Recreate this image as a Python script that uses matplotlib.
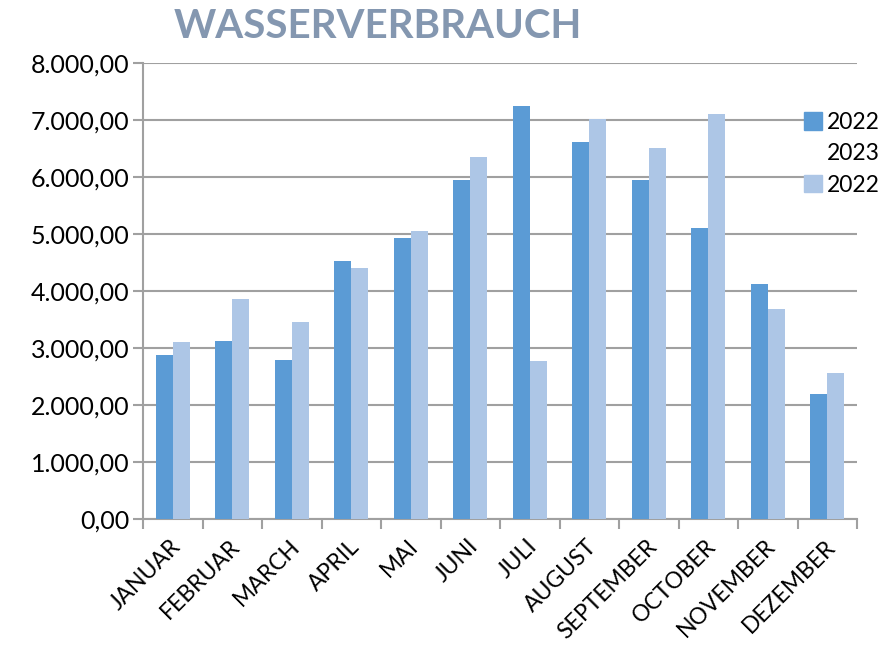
import matplotlib.pyplot as plt
import matplotlib.patches as mpatches
import numpy as np

monate = ['JANUAR', 'FEBRUAR', 'MARCH', 'APRIL', 'MAI', 'JUNI', 'JULI',
          'AUGUST', 'SEPTEMBER', 'OCTOBER', 'NOVEMBER', 'DEZEMBER']
werte_a = [2880, 3115, 2790, 4530, 4930, 5950, 7250, 6620, 5950, 5100, 4120, 2200]
werte_b = [3105, 3855, 3460, 4405, 5055, 6350, 2780, 7010, 6510, 7100, 3685, 2560]
legende = ['2022', '2023', '2022']

dunkel = '#5B9BD5'
hell = '#ADC6E6'
grau = '#A0A0A0'

plt.rcParams['font.family'] = ['Lato', 'DejaVu Sans']

fig = plt.figure(figsize=(8.82, 6.45), dpi=100)
ax = fig.add_axes([143/882, 1-519/645, 714/882, 456/645])

x = np.arange(len(monate))
b = 0.285
ax.bar(x - b/2, werte_a, width=b, color=dunkel, zorder=3)
ax.bar(x + b/2, werte_b, width=b, color=hell, zorder=3)

ax.set_xlim(-0.5, len(monate) - 0.5)
ax.set_ylim(0, 8000)
ax.set_yticks(np.arange(0, 8001, 1000))
ax.set_yticklabels([f'{v:,.2f}'.replace(',', 'X').replace('.', ',').replace('X', '.')
                    for v in np.arange(0, 8001, 1000)], fontsize=18)
ax.yaxis.grid(True, color=grau, linewidth=1.5, zorder=0)

# Beschriftung leicht links von der Mitte, wie im Original
ax.set_xticks(x - 0.05)
ax.set_xticklabels(monate, rotation=45, ha='right', rotation_mode='anchor', fontsize=16.5)
ax.tick_params(axis='x', which='major', length=0, pad=12)
ax.set_xticks(np.arange(-0.5, len(monate), 1), minor=True)
ax.tick_params(axis='x', which='minor', length=7, color=grau, width=1.5)
ax.tick_params(axis='y', length=7, color=grau, width=1.5, pad=3)

for s in ['top', 'right']:
    ax.spines[s].set_visible(False)
for s in ['left', 'bottom']:
    ax.spines[s].set_color(grau)
    ax.spines[s].set_linewidth(1.5)

griffe = [mpatches.Patch(color=dunkel), mpatches.Patch(color='none'), mpatches.Patch(color=hell)]
leg = ax.legend(griffe, legende, loc='upper left', bbox_to_anchor=(804/882, 1-112/645),
                bbox_transform=fig.transFigure, frameon=True, fontsize=16.5,
                handlelength=0.8, handleheight=0.8, handletextpad=0.2, labelspacing=0.45,
                borderpad=0, borderaxespad=0, fancybox=False)
leg.get_frame().set_facecolor('white')
leg.get_frame().set_edgecolor('none')
leg.get_frame().set_alpha(1)
leg.set_zorder(5)

fig.text(378/882, 1-27/645, 'WASSERVERBRAUCH', ha='center', va='center',
         fontsize=29, fontweight='bold', color='#8497B0')

fig.savefig('out.png', dpi=100)
